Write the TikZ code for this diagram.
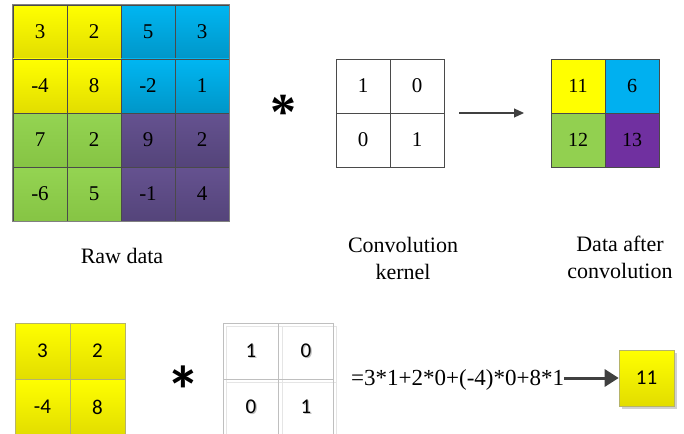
\documentclass[tikz,border=0pt]{standalone}
\usepackage{fontspec}
\setmainfont{Liberation Serif}
\newfontfamily\calfont{Carlito}
\usetikzlibrary{arrows.meta}

\definecolor{gridline}{HTML}{4A4A4A}
\definecolor{yelTop}{HTML}{FFFF00}
\definecolor{yelBot}{HTML}{E2DD00}
\definecolor{bluTop}{HTML}{00B6F2}
\definecolor{bluBot}{HTML}{0096C8}
\definecolor{grnTop}{HTML}{94D452}
\definecolor{grnBot}{HTML}{86C444}
\definecolor{purTop}{HTML}{655290}
\definecolor{purBot}{HTML}{54447A}
\definecolor{flatYel}{HTML}{FFFF00}
\definecolor{flatBlu}{HTML}{00B0F0}
\definecolor{flatGrn}{HTML}{92D050}
\definecolor{flatPur}{HTML}{7030A0}
\definecolor{oliveEdge}{HTML}{B5B36A}
\definecolor{lightEdge}{HTML}{BFBFBF}
\definecolor{arrowGray}{HTML}{404040}

\begin{document}
\begin{tikzpicture}[x=1pt,y=-1pt,
  cell/.style={minimum width=54pt,minimum height=54pt,inner sep=0pt,
    draw=gridline,line width=0.8pt,font=\fontsize{21}{21}\selectfont},
  yel/.style={top color=yelTop,bottom color=yelBot},
  blu/.style={top color=bluTop,bottom color=bluBot},
  grn/.style={top color=grnTop,bottom color=grnBot},
  pur/.style={top color=purTop,bottom color=purBot},
  kcell/.style={cell,fill=white},
  rcell/.style={cell,font=\fontsize{20}{20}\selectfont},
  label/.style={font=\fontsize{22}{27}\selectfont,align=center,inner sep=0pt},
  scell/.style={minimum width=55pt,minimum height=56pt,inner sep=0pt,
    font=\calfont\fontsize{21}{21}\selectfont},
]
\useasboundingbox (0,0) rectangle (684,433);

% ---- raw data 4x4 ----
\node[cell,yel] (r11) at (40,32)  {3};
\node[cell,yel] (r12) at (94,32)  {2};
\node[cell,blu] (r13) at (148,32) {5};
\node[cell,blu] (r14) at (202,32) {3};
\node[cell,yel] (r21) at (40,86)  {-4};
\node[cell,yel] (r22) at (94,86)  {8};
\node[cell,blu] (r23) at (148,86) {-2};
\node[cell,blu] (r24) at (202,86) {1};
\node[cell,grn] (r31) at (40,140)  {7};
\node[cell,grn] (r32) at (94,140)  {2};
\node[cell,pur] (r33) at (148,140) {9};
\node[cell,pur] (r34) at (202,140) {2};
\node[cell,grn] (r41) at (40,194)  {-6};
\node[cell,grn] (r42) at (94,194)  {5};
\node[cell,pur] (r43) at (148,194) {-1};
\node[cell,pur] (r44) at (202,194) {4};
\draw[draw=gray,line width=0.8pt] (r11.north west) rectangle (r44.south east);

% ---- convolution operator ----
\node[inner sep=0pt,anchor=base,font=\bfseries\fontsize{52}{52}\selectfont] (op1) at (283,129) {*};

% ---- kernel 2x2 ----
\node[kcell] (k11) at (363,86)  {1};
\node[kcell] (k12) at (417,86)  {0};
\node[kcell] (k21) at (363,140) {0};
\node[kcell] (k22) at (417,140) {1};

% ---- result 2x2 ----
\node[rcell,fill=flatYel] (o11) at (578,86)  {11};
\node[rcell,fill=flatBlu] (o12) at (632,86)  {6};
\node[rcell,fill=flatGrn] (o21) at (578,140) {12};
\node[rcell,fill=flatPur] (o22) at (632,140) {13};

\coordinate (a1) at (459,113);
\coordinate (a2) at (524,113);
\draw[arrowGray,line width=1.2pt,-{Triangle[length=10pt,width=9pt]}] (a1) -- (a2);

% ---- captions ----
\node[label,anchor=base] (cap1) at (122,263) {Raw data};
\node[label,anchor=base] (cap2) at (403,279) {Convolution\\kernel};
\node[label,anchor=base] (cap3) at (620,278) {Data after\\convolution};

% ---- worked example: first window ----
\node[scell,yel,draw=oliveEdge,line width=0.6pt] (w11) at (42.5,351) {3};
\node[scell,yel,draw=oliveEdge,line width=0.6pt] (w12) at (97.5,351) {2};
\node[scell,yel,draw=oliveEdge,line width=0.6pt] (w21) at (42.5,407) {-4};
\node[scell,yel,draw=oliveEdge,line width=0.6pt] (w22) at (97.5,407) {8};

\node[inner sep=0pt,anchor=base,text depth=0pt,font=\calfont\bfseries\fontsize{68}{68}\selectfont] (op2) at (183,414) {*};

% kernel with a faint drop shadow
\draw[lightEdge!40,line width=0.8pt] (226,326) rectangle (336,440);
\draw[lightEdge!40,line width=0.8pt] (282,326) -- (282,440) (226,382) -- (336,382);
\node[scell,draw=lightEdge,line width=0.7pt] (q11) at (251,351) {};
\node[scell,draw=lightEdge,line width=0.7pt] (q12) at (306,351) {};
\node[scell,draw=lightEdge,line width=0.7pt] (q21) at (251,407) {};
\node[scell,draw=lightEdge,line width=0.7pt] (q22) at (306,407) {};
\foreach \n/\v in {q11/1,q12/0,q21/0,q22/1}{
  \node[font=\calfont\fontsize{21}{21}\selectfont,text=black!25,inner sep=0pt] at ([shift={(1.2pt,-1.2pt)}]\n.center) {\v};
  \node[font=\calfont\fontsize{21}{21}\selectfont,inner sep=0pt] at (\n.center) {\v};
}

\node[inner sep=0pt,anchor=base west,font=\fontsize{23}{23}\selectfont] (eq) at (351,385) {=3*1+2*0+(-4)*0+8*1};

% result cell with shadow
\fill[black!18] (622,353) rectangle (677,409);
\node[minimum width=55pt,minimum height=56pt,inner sep=0pt,yel,draw=oliveEdge,line width=0.6pt,
  font=\calfont\fontsize{21}{21}\selectfont] (res) at (646.5,378) {11};

\coordinate (b1) at (eq.east |- res.west);
\draw[arrowGray,line width=3pt,-{Triangle[length=14pt,width=17pt]}] (b1) -- (res.west);
\end{tikzpicture}
\end{document}
